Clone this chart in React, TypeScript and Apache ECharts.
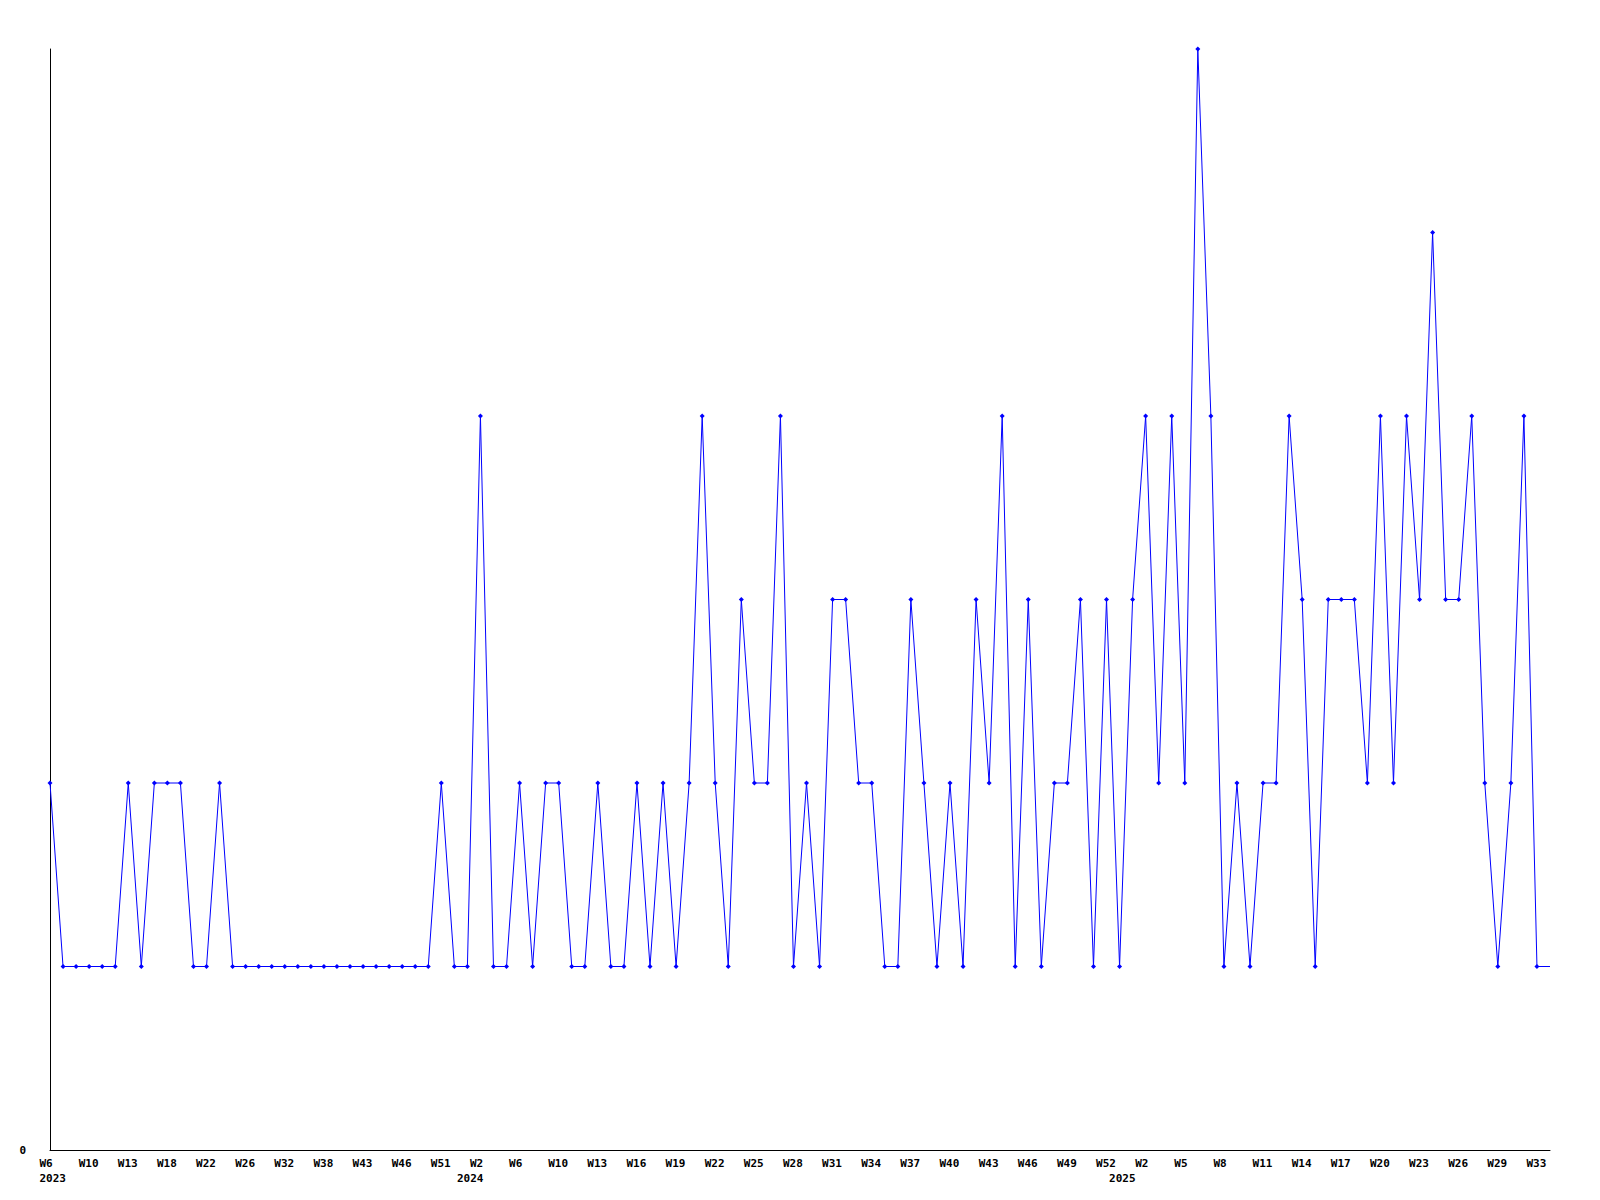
import React, { useEffect, useRef } from "react";
import * as echarts from "echarts";

// Week labels per year (only weeks present in the data)
const weeks2023 = ["W6","W7","W8","W10","W11","W12","W13","W15","W16","W18","W19","W21","W22","W23","W25","W26","W28","W30","W32","W34","W36","W38","W40","W41","W43","W44","W45","W46","W48","W49","W51","W52"];
const weeks2024 = ["W1","W2","W3","W5","W6","W7","W9","W10","W11","W12","W13","W14","W15","W16","W17","W18","W19","W20","W21","W22","W23","W24","W25","W26","W27","W28","W29","W30","W31","W32","W33","W34","W35","W36","W37","W38","W39","W40","W41","W42","W43","W44","W45","W46","W47","W48","W49","W50","W51","W52"];
const weeks2025 = ["W0","W1","W2","W3","W4","W5","W6","W7","W8","W9","W10","W11","W12","W13","W14","W15","W16","W17","W18","W19","W20","W21","W22","W23","W24","W25","W26","W27","W28","W29","W30","W32","W33","W34"];

const values2023 = [2,1,1,1,1,1,2,1,2,2,2,1,1,2,1,1,1,1,1,1,1,1,1,1,1,1,1,1,1,1,2,1];
const values2024 = [1,4,1,1,2,1,2,2,1,1,2,1,1,2,1,2,1,2,4,2,1,3,2,2,4,1,2,1,3,3,2,2,1,1,3,2,1,2,1,3,2,4,1,3,1,2,2,3,1,3];
const values2025 = [1,3,4,2,4,2,6,4,1,2,1,2,2,4,3,1,3,3,3,2,4,2,4,3,5,3,3,4,2,1,2,4,1,1];

const years = ["2023", "2024", "2025"];

export default function App() {
  const ref = useRef<HTMLDivElement>(null);
  useEffect(() => {
    if (!ref.current) return;
    const chart = echarts.init(ref.current, null, { renderer: "svg" });
    const groups = [weeks2023, weeks2024, weeks2025];
    const valGroups = [values2023, values2024, values2025];
    const categories: string[] = [];
    const yearLabels: string[] = [];
    const data: any[] = [];
    groups.forEach((g, gi) => {
      g.forEach((w, wi) => {
        categories.push(w);
        yearLabels.push(wi === 0 ? years[gi] : "");
        data.push(valGroups[gi][wi]);
      });
    });
    const lastIdx = data.length - 1;
    const seriesData = data.map((v, i) =>
      i === lastIdx ? { value: v, symbol: "none" } : v
    );
    const font = {
      fontFamily: "DejaVu Sans Mono",
      fontWeight: "bold" as const,
      fontSize: 11,
      color: "#000",
    };
    const richBox = {
      t: {
        ...font,
        width: 21,
        align: "left" as const,
        overflow: "none" as const,
      },
    };
    chart.setOption({
      animation: false,
      backgroundColor: "#fff",
      grid: { left: 50, right: 50, top: 49, bottom: 50 },
      xAxis: [
        {
          type: "category",
          data: categories,
          boundaryGap: false,
          axisLine: { show: true, lineStyle: { color: "#000", width: 1 } },
          axisTick: { show: false },
          splitLine: { show: false },
          axisLabel: {
            ...font,
            interval: 2,
            margin: 8,
            align: "center",
            rich: richBox,
            formatter: (v: string, i: number) =>
              i === lastIdx ? "" : "{t|" + v + "}",
          },
        },
        {
          type: "category",
          data: yearLabels.map((y, i) => y + "_" + i),
          boundaryGap: false,
          position: "bottom",
          axisLine: { show: false },
          axisTick: { show: false },
          splitLine: { show: false },
          axisLabel: {
            ...font,
            interval: 0,
            margin: 23,
            align: "center",
            rich: richBox,
            formatter: (_v: string, i: number) =>
              yearLabels[i] ? "{t|" + yearLabels[i] + "}" : "",
          },
        },
      ],
      yAxis: {
        type: "value",
        min: 0,
        max: 6,
        interval: 1,
        axisLine: { show: true, lineStyle: { color: "#000", width: 1 } },
        axisTick: { show: false },
        splitLine: { show: false },
        axisLabel: {
          ...font,
          margin: 24,
          formatter: (v: number) => (v === 0 ? "0" : ""),
        },
      },
      series: [
        {
          type: "line",
          data: seriesData,
          xAxisIndex: 0,
          symbol: "diamond",
          symbolSize: 5,
          lineStyle: { color: "#0000ff", width: 1 },
          itemStyle: { color: "#0000ff" },
          emphasis: { disabled: true },
        },
      ],
    });
    return () => chart.dispose();
  }, []);
  return (
    <div
      ref={ref}
      style={{ position: "fixed", left: 0, top: 0, width: 1600, height: 1200 }}
    />
  );
}
